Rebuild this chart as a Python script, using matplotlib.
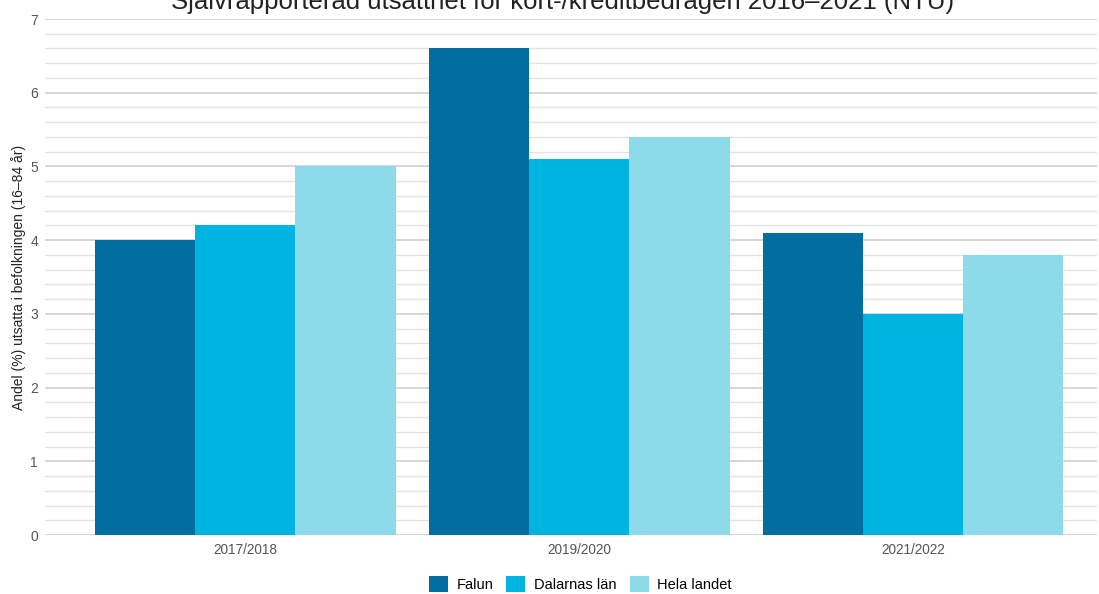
import matplotlib
matplotlib.use("Agg")
import matplotlib.pyplot as plt
import numpy as np

plt.rcParams['font.family'] = ['Liberation Sans', 'DejaVu Sans']

# data
perioder = ["2017/2018", "2019/2020", "2021/2022"]
falun = [4.0, 6.6, 4.1]
dalarna = [4.2, 5.1, 3.0]
hela_landet = [5.0, 5.4, 3.8]
serier = ["Falun", "Dalarnas län", "Hela landet"]
farger = ["#006FA0", "#00B4E2", "#8DDAEA"]

fig = plt.figure(figsize=(10.99, 5.94), dpi=100, facecolor='white')
ax = fig.add_axes([0.041, 0.0993, 0.957, 0.8687])

x = np.arange(len(perioder))
w = 0.3
for i, (vals, namn, c) in enumerate(zip([falun, dalarna, hela_landet], serier, farger)):
    ax.bar(x + (i - 1) * w, vals, width=w, color=c, label=namn, zorder=3)

ax.set_ylim(0, 7)
ax.set_xlim(-0.6, 2.55)
ax.set_yticks(range(0, 8))
ax.set_yticks(np.arange(0, 7.01, 0.2), minor=True)
ax.grid(axis='y', which='minor', color='#e3e3e3', linewidth=1, zorder=0)
ax.grid(axis='y', which='major', color='#cfcfcf', linewidth=1.2, zorder=0)
ax.set_xticks(x)
ax.set_xticklabels(perioder)
ax.tick_params(axis='both', which='both', length=0, colors='#555555')
ax.tick_params(axis='y', pad=5, labelsize=10)
ax.tick_params(axis='x', pad=6, labelsize=9.8)
for s in ax.spines.values():
    s.set_visible(False)

ax.set_ylabel("Andel (%) utsatta i befolkningen (16–84 år)", fontsize=10, color='#222222', labelpad=3)

fig.text(0.512, 0.985, "Självrapporterad utsatthet för kort-/kreditbedrägeri 2016–2021 (NTU)",
         ha='center', va='baseline', fontsize=18.5, color='#222222')

fig.legend(loc='center', bbox_to_anchor=(0.528, 0.017), ncol=3, frameon=False,
           fontsize=10.5, handlelength=1.3, handleheight=1.3, handletextpad=0.6,
           columnspacing=0.9)

fig.savefig("out.png", dpi=100, facecolor='white')
